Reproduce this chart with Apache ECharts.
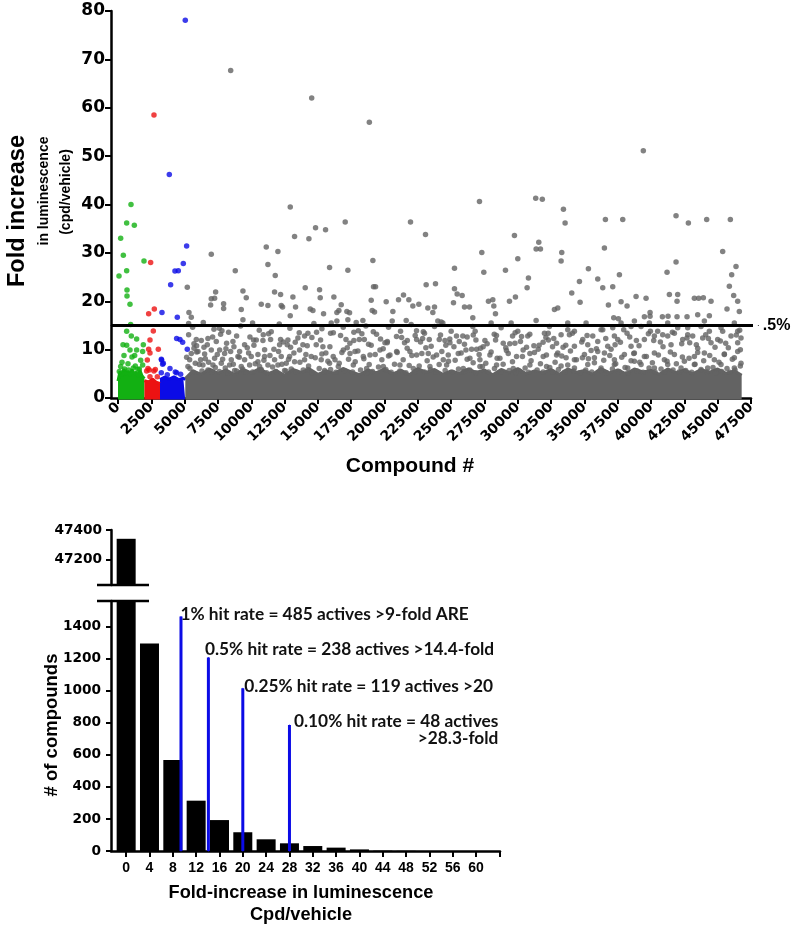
<!DOCTYPE html>
<html><head><meta charset="utf-8">
<script src="https://cdn.jsdelivr.net/npm/echarts@6/dist/echarts.min.js"></script>
<style>html,body{margin:0;padding:0;background:#fff}#c{width:799px;height:929px}</style>
</head><body><div id="c"></div>
<script>
// ---------- top chart: screening scatter ----------
const compoundTicks = [0,2500,5000,7500,10000,12500,15000,17500,20000,22500,25000,27500,30000,32500,35000,37500,40000,42500,45000,47500];
const foldTicks = [0,10,20,30,40,50,60,70,80];
const thresholdFold = 15;
const thresholdSpan = [-525, 48050];
const thresholdLabel = '.5%';

// dense low-value bands (upper edge of the solid mass of points)
const greenBand = [[0,3.5],[150,5.5],[300,4.5],[450,6.0],[600,4.8],[750,5.6],[900,4.6],[1050,5.9],[1200,4.9],[1350,5.4],[1500,4.4],[1650,5.7],[1800,4.6],[1980,4.0]];
const redBand = [[1980,3.6],[2300,3.3],[2600,3.9],[2900,3.2],[3150,3.0]];
const blueBand = [[3150,3.8],[3500,4.3],[3850,3.9],[4200,4.4],[4550,3.8],[4900,4.1],[5050,3.8]];
const grayBand = [[5050,4.0],[5625,5.6],[6250,4.9],[6875,6.0],[7500,5.1],[8125,5.8],[8750,4.8],[9375,5.9],[10000,5.2],[10625,6.1],[11250,5.0],[11875,5.7],[12500,4.7],[13125,5.9],[13750,5.3],[14375,6.0],[15000,4.9],[15625,5.6],[16250,5.1],[16875,6.1],[17500,5.4],[18125,4.8],[18750,5.8],[19375,5.2],[20000,6.0],[20625,5.0],[21250,5.7],[21875,4.8],[22500,6.1],[23125,5.3],[23750,5.9],[24375,4.9],[25000,5.6],[25625,5.1],[26250,6.0],[26875,5.3],[27500,5.8],[28125,4.8],[28750,5.9],[29375,5.2],[30000,6.1],[30625,5.0],[31250,5.6],[31875,5.2],[32500,5.9],[33125,4.9],[33750,6.0],[34375,5.3],[35000,5.7],[35625,4.9],[36250,6.1],[36875,5.2],[37500,5.8],[38125,5.0],[38750,6.0],[39375,5.4],[40000,5.7],[40625,4.9],[41250,6.0],[41875,5.2],[42500,5.8],[43125,5.0],[43750,5.9],[44375,5.3],[45000,6.0],[45625,5.1],[46250,5.6],[46800,4.7]];

const greenPoints = [[975,40.0],[650,36.2],[1225,35.7],[200,33.0],[400,29.5],[1950,28.3],[650,26.3],[75,25.2],[675,22.3],[675,21.1],[900,19.4],[950,15.2],
 [650,13.8],[1000,12.8],[1400,12.2],[375,11.0],[650,10.9],[1900,11.0],[900,9.9],[1400,9.9],[1850,9.6],[1250,8.8],[450,8.8],[1050,8.5],[200,6.5],[1300,6.6],[1850,6.8],[100,5.5],[500,6.0],[800,5.8],[1600,6.0],[1150,6.2],[300,7.4],[1700,7.8],[750,7.1],[1500,5.9]];
const redPoints = [[2700,58.5],[2450,28.0],[2725,18.4],[2300,17.4],[2650,13.85],[2400,12.0],[3025,10.1],[2300,10.1],[2200,7.85],[2400,9.3],[2700,5.6],[2150,5.6],[2350,5.8],[2800,5.9],[2250,6.1],[2400,4.4],[2950,4.4]];
const bluePoints = [[5050,78.1],[3850,46.2],[5150,31.4],[4900,27.8],[4275,26.25],[4525,26.3],[3950,23.4],[3300,17.7],[4450,16.7],[4400,12.3],[4650,12.1],[4850,11.5],[5200,10.1],[3275,7.85],[3400,7.2],[3900,6.1],[4400,5.2],[3250,8.0],[3350,7.0],[3250,5.2],[4300,5.4],[4700,4.9],[3700,4.8]];
const grayPoints = [
 [8455,67.7],[14535,62.0],[18860,57.0],[39420,51.1],[31345,41.3],[31840,41.1],
 [12925,39.5],[7000,29.7],[5200,22.9],[7325,21.9],[7000,20.5],[7250,20.6],[6950,19.2],[7925,19.5],[7925,18.5],[8800,26.3],[9375,22.1],[9625,20.7],[9375,16.2],[9250,18.3],[5325,17.7],[5500,16.7],[5300,15.4],[10750,19.4],[11250,19.1],[11125,31.2],[11250,27.6],[12000,30.3],[11800,25.3],[11750,21.9],[12200,21.4],[12250,19.1],[12350,18.8],[13125,20.9],[13325,18.8],[13250,33.4],[12925,17.0],[14050,22.8],[14325,32.9],[14825,35.2],[15575,34.8],[14425,18.4],[14625,18.1],[15125,22.4],[15175,20.7],[15425,17.4],[15875,27.0],[16200,20.9],[16425,17.7],[16575,18.1],[16750,19.3],[17050,36.4],[17250,26.4],[17175,17.9],[17375,17.6],[16425,15.9],[17250,16.2],[17875,15.6],[18375,16.0],[19125,28.4],[19175,23.0],[19325,23.0],[19000,20.2],[19075,18.1],[19250,17.8],[20125,19.9],[20625,17.9],[21050,20.3],[21425,21.3],[21825,20.3],[22125,19.0],[22575,19.4],[21950,36.4],[23075,33.8],[23125,23.4],[23825,23.6],[23250,18.6],[23750,18.8],[23625,17.7],[24000,15.9],[24250,15.7],[20575,15.9],[21625,16.0],
 [25250,26.8],[25250,22.6],[25450,21.5],[25825,21.2],[25175,19.7],[26000,18.8],[26375,18.8],[27125,40.6],[27300,30.1],[27450,26.0],[26625,16.6],[27800,20.0],[28125,20.3],[28200,19.0],[28325,17.4],[29075,26.4],[29375,20.0],[29750,33.6],[29825,20.9],[30000,28.8],[30700,22.8],[30800,24.8],[31575,32.2],[31375,30.8],[31700,30.8],[31375,16.0],[32750,18.3],[33000,18.6],[33300,30.1],[33250,28.3],[33425,39.0],[33550,36.2],[34050,21.7],[34625,24.1],[34675,19.8],[35300,26.7],[36000,24.6],[36375,22.8],[36500,31.0],[36575,36.9],[36800,19.2],[37125,23.0],[37200,16.6],[37550,16.4],[37625,25.5],[37750,19.9],[38200,19.0],[37875,36.9],[38875,21.0],[39625,20.6],[39925,17.7],[39925,16.9],[39500,16.8],[40850,16.8],[41275,16.9],[41200,26.0],[41375,21.4],[42000,21.4],[41875,28.1],[41875,37.7],[41950,20.0],[41950,16.8],[42700,16.8],[42800,36.2],[43250,20.6],[43575,20.6],[43925,20.7],[43500,17.2],[44000,15.9],[44375,17.0],[44500,20.0],[44175,36.9],[45375,30.3],[45700,18.4],[45875,23.1],[45950,36.9],[46050,25.5],[46200,21.2],[46375,27.2],[46500,20.0],[46625,17.9],
 [7200,14.2],[7800,13.9],[5875,12.1],[6250,11.9],[6750,12.3],[7375,11.7],[5700,10.3],[5500,9.2],[6000,9.6],[6500,9.1],[7000,9.9],[7625,9.9],[8625,11.7],[8700,10.6],[9125,9.6],[9500,11.0],[10175,12.0],[10375,12.0],[10875,11.9],[11500,13.7],[11450,12.1],[12200,12.1],[12125,11.0],[12750,12.0],[12950,10.5],[13625,9.9],[13875,11.0],[14250,13.4],[14550,12.5],[14875,11.0],[15375,10.6],[15950,13.4],[12250,8.6],[12875,8.6],[11750,7.9],[11000,8.6],[10500,7.5],[10000,8.6],[9500,7.9],[9000,8.6],[8500,7.9],[8000,9.2],[7250,8.2],[6200,7.9],[5800,7.2],[5375,7.9],[5250,6.5],[6375,6.8],[7125,6.8],[7750,7.2],[8375,6.8],[9250,6.5],[9875,6.8],[10625,6.5],[11250,6.8],[12000,6.8],[12625,7.2],[13250,7.5],[14000,7.9],[14500,8.6],[15250,7.9],[15875,7.2],[6750,5.8],[8750,5.7],[10750,5.9],[12500,5.7],[14250,5.9],[15500,5.7],
 [16158,13.5],[17108,12.1],[18033,13.9],[18108,12.1],[18483,12.1],[19158,13.7],[20033,11.4],[20208,11.7],[21283,12.5],[21708,11.9],[22408,12.1],[22908,13.7],[23358,12.1],[22858,12.3],[24108,12.1],[24533,11.9],[24908,11.4],[25208,10.6],[25608,11.7],[26108,9.9],[26658,13.0],[26858,12.0],[26533,10.1],[26908,10.1],[27533,11.9],[28233,13.2],[28333,12.0],[28908,11.3],[29608,12.8],[29783,11.3],[30283,12.7],[30658,10.5],[31208,10.8],[31533,10.1],[32108,12.5],[32283,13.4],[32608,10.6],[32908,11.3],
 [16283,7.9],[16908,9.9],[17408,9.2],[17783,9.6],[18408,8.6],[18908,8.9],[19658,9.9],[20408,8.9],[20908,9.6],[21908,9.6],[22408,8.9],[23283,9.2],[23908,8.9],[24408,7.9],[24783,8.9],[25533,9.2],[26408,8.2],[27158,7.9],[27908,8.9],[28658,8.2],[29283,9.2],[29908,8.6],[30908,9.2],[31908,8.6],[32908,8.9],
 [16533,6.5],[17658,6.8],[18658,6.1],[19908,6.5],[21158,6.8],[22158,6.1],[23408,6.5],[24658,6.8],[25908,6.1],[27158,6.5],[28408,6.8],[29658,6.1],[30908,6.8],[32158,6.5],
 [33250,13.1],[33750,14.1],[33875,13.1],[34250,10.7],[34875,12.1],[35250,11.0],[35625,12.8],[36000,11.7],[36375,14.1],[36750,10.7],[37125,14.5],[37500,12.1],[37950,14.1],[38200,13.4],[38500,10.7],[38750,9.3],[39250,14.8],[39500,12.1],[39950,13.8],[40500,13.8],[40875,13.1],[41250,12.8],[41500,11.0],[42000,14.5],[42375,12.1],[42750,13.1],[43125,12.8],[43500,10.3],[43875,12.4],[44500,11.4],[45000,12.1],[45375,13.8],[46000,12.8],[46500,11.4],[46750,12.4],
 [33000,9.3],[33625,8.3],[34250,7.9],[35000,9.0],[35750,8.3],[36500,9.3],[37250,7.9],[38000,9.0],[38750,7.6],[39500,8.6],[40250,9.3],[41000,7.9],[41750,9.0],[42500,7.6],[43250,8.6],[44000,9.3],[44750,7.9],[45500,9.0],[46250,8.3],[46750,7.2],
 [33250,6.6],[34250,6.2],[35250,6.9],[36250,6.2],[37250,6.9],[38250,6.2],[39250,6.9],[40250,6.2],[41250,6.9],[42250,6.2],[43250,6.9],[44250,6.2],[45250,6.9],[46250,6.2]
];
// further gray points estimated in the crowded 5-14 zone
const grayCloud = [
 [5150,8.4],[5400,6.1],[5650,5.3],[5900,9.5],[6100,6.9],[6300,5.6],[6550,8.1],[6800,7.4],[7050,5.4],[7300,6.3],[7450,9.0],[5700,11.2],[6450,10.5],[7100,12.6],[5300,13.1],
 [7600,5.5],[7850,8.0],[8050,6.2],[8250,5.1],[8450,9.6],[8650,7.0],[8900,5.6],[9100,8.4],[9350,6.0],[9600,5.3],[9800,9.3],[8150,11.3],[8900,12.8],[9700,10.4],[7700,13.2],
 [10100,5.4],[10300,7.1],[10500,9.0],[10700,5.8],[10950,7.8],[11150,5.2],[11400,8.8],[11600,6.4],[11850,5.5],[12050,9.6],[12300,7.0],[10200,10.9],[10900,13.1],[11700,10.1],[12400,11.6],
 [12600,5.6],[12800,8.0],[13000,6.0],[13200,9.3],[13400,5.3],[13650,7.4],[13900,5.8],[14100,9.0],[14300,6.6],[14550,5.2],[14800,8.3],[12700,11.0],[13500,12.4],[14200,10.8],[14900,13.6],
 [15100,6.1],[15300,9.1],[15500,5.4],[15750,7.6],[15950,5.9],[16150,8.6],[16350,5.3],[16600,7.2],[16800,9.4],[17000,5.7],[17300,8.0],[15200,12.0],[15900,10.6],[16700,12.9],[17400,11.3],
 [17600,5.4],[17800,7.5],[18000,9.7],[18200,5.8],[18450,8.1],[18650,5.2],[18850,6.9],[19100,5.5],[19300,9.0],[19550,6.4],[19800,7.9],[17700,11.9],[18300,13.3],[19000,10.9],[19700,12.2],
 [20100,5.9],[20300,8.7],[20500,5.3],[20750,7.0],[20950,9.4],[21150,5.6],[21400,7.9],[21600,5.2],[21850,6.7],[22050,8.8],[22300,5.5],[20200,11.4],[20900,12.7],[21700,10.3],[22400,13.9],
 [22600,6.6],[22800,9.2],[23000,5.4],[23200,7.7],[23450,5.9],[23650,8.5],[23850,5.3],[24100,6.9],[24300,9.6],[24550,5.7],[24800,7.6],[22700,11.6],[23500,10.7],[24200,13.0],[24900,12.2],
 [25100,5.3],[25300,7.8],[25550,6.0],[25750,9.3],[25950,5.5],[26200,8.0],[26400,5.8],[26650,7.3],[26850,5.2],[27100,9.0],[27350,6.5],[25400,12.8],[26000,11.1],[26800,13.8],[27400,10.6],
 [27600,7.2],[27800,5.4],[28000,9.5],[28250,6.1],[28450,8.2],[28700,5.3],[28900,7.0],[29150,9.8],[29350,5.7],[29600,7.5],[29850,5.2],[27700,11.2],[28400,12.9],[29100,10.4],[29800,13.5],
 [30100,5.6],[30350,8.6],[30550,6.2],[30800,5.3],[31000,7.7],[31250,9.4],[31450,5.8],[31700,7.1],[31900,5.4],[32150,8.9],[32400,6.3],[30200,11.7],[30900,13.2],[31600,10.9],[32300,12.0],
 [32600,5.4],[32800,7.4],[33050,5.9],[33300,8.7],[33500,5.3],[33750,6.8],[33950,9.7],[34200,5.6],[34400,7.9],[34650,5.2],[34850,8.3],[32700,12.3],[33400,10.5],[34100,13.4],[34800,11.6],
 [35100,5.8],[35300,8.1],[35550,5.4],[35750,7.3],[36000,9.6],[36200,5.7],[36450,7.8],[36650,5.2],[36900,8.8],[37100,6.0],[37350,7.1],[35200,12.9],[35900,10.2],[36600,12.3],[37300,11.0],
 [37600,5.5],[37800,8.4],[38050,6.3],[38250,5.2],[38500,7.7],[38700,9.2],[38950,5.6],[39150,7.4],[39400,5.3],[39650,8.6],[39850,6.2],[37700,11.5],[38400,12.6],[39100,10.8],[39800,13.3],
 [40100,7.3],[40300,5.4],[40550,8.9],[40750,6.0],[41000,5.3],[41200,7.6],[41450,9.5],[41650,5.8],[41900,7.1],[42100,5.4],[42350,8.5],[40200,11.9],[40900,10.6],[41600,13.6],[42300,11.2],
 [42600,5.7],[42850,8.2],[43050,5.3],[43300,7.0],[43500,9.4],[43750,5.9],[43950,7.7],[44200,5.4],[44400,8.8],[44650,6.3],[44850,5.2],[42700,12.4],[43400,11.0],[44100,13.1],[44800,10.5],
 [45100,7.4],[45300,5.5],[45500,9.1],[45700,6.1],[45900,5.3],[46100,8.0],[46300,5.8],[46500,9.6],[46700,6.6],[45200,11.8],[45800,10.4],[46400,13.0],[46650,14.0]
];
// gray points estimated close to the threshold line and in the 9-13 zone
const grayNearLine = [
 [23000,13.4],[23750,14.8],[24375,15.5],[25000,13.8],[25875,12.8],[26625,14.8],[28000,15.5],[28750,14.5],[29500,15.5],[30000,13.8],[30750,12.8],[32000,13.4],[32375,14.8],[33750,15.5],[34250,13.8],[35125,15.5],[36250,14.1],[37250,12.8],[37750,15.5],[38500,14.8],[38750,15.9],[39875,15.5],[40250,12.8],[41250,15.5],[41750,13.4],[42750,14.5],[43750,14.8],[44375,13.8],[45250,14.5],[46250,15.5],[46500,13.8],
 [5600,14.6],[6400,15.6],[7600,14.4],[8300,13.6],[9200,14.9],[10100,15.5],[10600,14.0],[11300,13.3],[12100,15.3],[12900,14.4],[13600,13.5],[14700,15.4],[15300,14.3],[16000,15.5],[16900,14.6],[17700,13.6],[18600,14.9],[19400,13.2],[20300,14.6],[21200,13.8],[22000,15.2],[22300,12.9],
 [5900,10.8],[6700,11.0],[8100,10.2],[9900,12.6],[11000,10.0],[13300,11.5],[14000,12.8],[15600,9.3],[17200,10.4],[18800,11.1],[19900,10.2],[21500,11.4],[23100,10.4],[24600,10.9],[26200,12.6],[27200,10.3],[29400,11.2],[30400,9.9],[31900,11.5],[33600,10.9],[35500,9.8],[37000,10.1],[38900,11.9],[40700,11.6],[42900,11.4],[44300,12.3],[45600,11.3],[46700,10.0]
];

// ---------- bottom chart: histogram ----------
const binCenters = [0,4,8,12,16,20,24,28,32,36,40,44,48,52,56,60];
const binCounts = [47340,1295,568,314,193,117,73,48,31,21,10,2,1,0,0,0];
const histTickValues = [0,4,8,12,16,20,24,28,32,36,40,44,48,52,56,60,64];
const histLabelValues = [0,4,8,12,16,20,24,28,32,36,40,44,48,52,56,60];
const countTicksLow = [0,200,400,600,800,1000,1200,1400];
const countTicksHigh = [47200,47400];
const hitFold = [9.4,14.1,20,28];
const hitHeight = [1463,1207,1015,786];
const hitText = ['1% hit rate = 485 actives >9-fold ARE','0.5% hit rate = 238 actives >14.4-fold','0.25% hit rate = 119 actives >20','0.10% hit rate = 48 actives'];
const hitText2 = ['','','','>28.3-fold'];

const GREEN='#12b012', RED='#ec1212', BLUE='#0b0be6', GRAY='#636363';
const TICKFONT = 'DejaVu Sans';
const plain = v => String(v);
const chart = echarts.init(document.getElementById('c'), null, {renderer:'canvas'});

function band(data,color){
  return {type:'line', xAxisIndex:0, yAxisIndex:0, data:data, symbol:'none', smooth:false,
    lineStyle:{color:color,width:3}, areaStyle:{color:color,opacity:1,origin:-0.5}, z:2, silent:true};
}
function dots(data,color){
  return {type:'scatter', xAxisIndex:0, yAxisIndex:0, data:data, symbol:'circle', symbolSize:5.5,
    itemStyle:{color:color}, z:3, silent:true};
}
const labelOffsets = [[-1,-2],[-4,-8],[1,-2],[4,5]];
const annFont = {fontFamily:'Lato',fontWeight:'bold',fontSize:17.3,color:'#111',lineHeight:17};
const hitSeries = hitFold.map((f,i)=>({
  type:'line', xAxisIndex:1, yAxisIndex:1, symbol:'circle', symbolSize:1, showSymbol:true,
  lineStyle:{color:BLUE,width:3}, itemStyle:{color:BLUE}, z:5, silent:true,
  data:[[f,0],{value:[f,hitHeight[i]], label:{show:true, position:'right', distance:0, offset:labelOffsets[i],
    formatter: hitText2[i] ? '{a|'+hitText[i]+'}\n{b|'+hitText2[i]+'}' : '{a|'+hitText[i]+'}',
    rich:{a:Object.assign({},annFont), b:Object.assign({align:'right'},annFont)}}}]
}));

const axisLineStyle = {color:'#000',width:2.5};
const option = {
  animation:false,
  backgroundColor:'#fff',
  grid:[
    {left:111,right:48,top:11,bottom:531},
    {left:111,right:299,top:601,bottom:78},
    {left:111,right:299,top:530,bottom:344}
  ],
  xAxis:[
    {type:'value', gridIndex:0, min:-525, max:47500,
     axisLine:{onZero:false,lineStyle:axisLineStyle},
     axisTick:{customValues:compoundTicks,length:6,lineStyle:{color:'#000',width:2}},
     axisLabel:{customValues:compoundTicks,formatter:plain,rotate:45,margin:7,fontFamily:TICKFONT,fontWeight:'bold',fontSize:14,color:'#000'},
     splitLine:{show:false}},
    {type:'value', gridIndex:1, min:-2.6, max:64.1,
     axisLine:{onZero:false,lineStyle:axisLineStyle},
     axisTick:{customValues:histTickValues,length:6,lineStyle:{color:'#000',width:2}},
     axisLabel:{customValues:histLabelValues,formatter:plain,margin:10,fontFamily:'Liberation Sans',fontWeight:'bold',fontSize:14,color:'#000'},
     splitLine:{show:false}},
    {type:'value', gridIndex:2, min:-2.6, max:64.1, show:false}
  ],
  yAxis:[
    {type:'value', gridIndex:0, min:0, max:80,
     axisLine:{show:true,onZero:false,lineStyle:axisLineStyle},
     axisTick:{show:true,customValues:foldTicks,length:6,lineStyle:{color:'#000',width:2}},
     axisLabel:{customValues:foldTicks,formatter:plain,margin:6,fontFamily:TICKFONT,fontWeight:'bold',fontSize:17,color:'#000'},
     splitLine:{show:false}},
    {type:'value', gridIndex:1, min:0, max:1560,
     axisLine:{show:true,onZero:false,lineStyle:axisLineStyle},
     axisTick:{show:true,customValues:countTicksLow,length:5,lineStyle:{color:'#000',width:2}},
     axisLabel:{customValues:countTicksLow,formatter:plain,margin:10,fontFamily:TICKFONT,fontWeight:'bold',fontSize:13.7,color:'#000'},
     splitLine:{show:false}},
    {type:'value', gridIndex:2, min:47025, max:47400,
     axisLine:{show:true,onZero:false,lineStyle:axisLineStyle},
     axisTick:{show:true,customValues:countTicksHigh,length:5,lineStyle:{color:'#000',width:2}},
     axisLabel:{customValues:countTicksHigh,formatter:plain,margin:9,fontFamily:TICKFONT,fontWeight:'bold',fontSize:13.7,color:'#000'},
     splitLine:{show:false}}
  ],
  series:[
    band(greenBand,GREEN), band(redBand,RED), band(blueBand,BLUE), band(grayBand,GRAY),
    dots(greenPoints,GREEN), dots(redPoints,RED), dots(bluePoints,BLUE), dots(grayPoints,GRAY), dots(grayCloud,GRAY), dots(grayNearLine,GRAY),
    {type:'line', xAxisIndex:0, yAxisIndex:0, clip:false, symbol:'circle', symbolSize:1, showSymbol:true,
     lineStyle:{color:'#000',width:3}, itemStyle:{color:'#000'}, z:6, silent:true,
     data:[[thresholdSpan[0],thresholdFold],{value:[thresholdSpan[1],thresholdFold],
       label:{show:true,position:'right',distance:4,formatter:thresholdLabel,fontFamily:'Liberation Sans',fontWeight:'bold',fontSize:16,color:'#000'}}]},
    {type:'bar', xAxisIndex:1, yAxisIndex:1, barWidth:19, clip:true, itemStyle:{color:'#000'}, z:3, silent:true,
     data:binCenters.map((c,i)=>[c,binCounts[i]])},
    {type:'bar', xAxisIndex:2, yAxisIndex:2, barWidth:19, clip:true, itemStyle:{color:'#000'}, z:3, silent:true,
     data:binCenters.map((c,i)=>[c,binCounts[i]])},
    ...hitSeries
  ],
  graphic:[
    {type:'text', x:17, y:211, rotation:Math.PI/2, style:{text:'Fold increase', fontFamily:'Liberation Sans', fontWeight:'bold', fontSize:23.6, fill:'#000', align:'center', verticalAlign:'middle'}},
    {type:'text', x:44, y:191, rotation:Math.PI/2, style:{text:'in luminescence', fontFamily:'Liberation Sans', fontWeight:'bold', fontSize:14, fill:'#000', align:'center', verticalAlign:'middle'}},
    {type:'text', x:66, y:192, rotation:Math.PI/2, style:{text:'(cpd/vehicle)', fontFamily:'Liberation Sans', fontWeight:'bold', fontSize:14, fill:'#000', align:'center', verticalAlign:'middle'}},
    {type:'text', x:410, y:466, style:{text:'Compound #', fontFamily:'Liberation Sans', fontWeight:'bold', fontSize:21, fill:'#000', align:'center', verticalAlign:'middle'}},
    {type:'text', x:52, y:725, rotation:Math.PI/2, style:{text:'# of compounds', fontFamily:'Liberation Sans', fontWeight:'bold', fontSize:18.5, fill:'#000', align:'center', verticalAlign:'middle'}},
    {type:'text', x:301, y:893, style:{text:'Fold-increase in luminescence', fontFamily:'Liberation Sans', fontWeight:'bold', fontSize:18.2, fill:'#000', align:'center', verticalAlign:'middle'}},
    {type:'text', x:301, y:915, style:{text:'Cpd/vehicle', fontFamily:'Liberation Sans', fontWeight:'bold', fontSize:18.2, fill:'#000', align:'center', verticalAlign:'middle'}},
    {type:'line', shape:{x1:97,y1:585,x2:149,y2:585}, style:{stroke:'#000',lineWidth:2.5}},
    {type:'line', shape:{x1:97,y1:601,x2:149,y2:601}, style:{stroke:'#000',lineWidth:2.5}}
  ]
};
chart.setOption(option);
</script></body></html>
